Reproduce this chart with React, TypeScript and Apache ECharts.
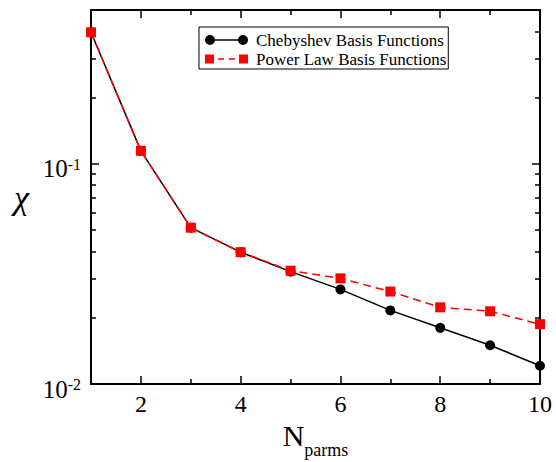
import React, { useEffect, useRef } from "react";
import * as echarts from "echarts";

const xValues = [1, 2, 3, 4, 5, 6, 7, 8, 9, 10];
const chebyshev = [0.396, 0.1146, 0.0513, 0.0397, 0.0324, 0.0269, 0.0216, 0.018, 0.015, 0.0121];
const powerLaw = [0.396, 0.1146, 0.0513, 0.0397, 0.0327, 0.0302, 0.0263, 0.0223, 0.0214, 0.0187];
const seriesNames = ["Chebyshev Basis Functions", "Power Law Basis Functions"];
const xMajorTicks = [2, 4, 6, 8, 10];
const xMinorTicks = [1, 3, 5, 7, 9];
const yMajorTicks = [0.01, 0.1];
const yMinorTicks = [0.02, 0.03, 0.04, 0.05, 0.06, 0.07, 0.08, 0.09, 0.2, 0.3, 0.4];

const FONT = "'Liberation Serif', 'Times New Roman', 'DejaVu Serif', serif";

const chebIcon =
  "path://M0 5 A5 5 0 1 0 10 5 A5 5 0 1 0 0 5 Z M10 4.3 H33 V5.7 H10 Z M33 5 A5 5 0 1 0 43 5 A5 5 0 1 0 33 5 Z";
const powerIcon =
  "path://M0 0.5 H9 V9.5 H0 Z M13 4.3 H19 V5.7 H13 Z M24 4.3 H30 V5.7 H24 Z M34 0.5 H43 V9.5 H34 Z";

export default function App() {
  const ref = useRef<HTMLDivElement>(null);
  useEffect(() => {
    document.body.style.margin = "0";
    if (!ref.current) return;
    const chart = echarts.init(ref.current, undefined, { renderer: "svg" });
    const axisLine = { show: true, lineStyle: { color: "#000", width: 2 } };
    const tickStyle = { color: "#000", width: 1.5 };
    const xBase = { type: "value", min: 1, max: 10, splitLine: { show: false } };
    const yBase = { type: "log", logBase: 10, min: 0.01, max: 0.5, splitLine: { show: false } };
    const option: any = {
      animation: false,
      textStyle: { fontFamily: FONT },
      grid: { left: 91, right: 16, top: 10, bottom: 78, containLabel: false, outerBoundsMode: "none" },
      legend: {
        orient: "vertical",
        left: 199,
        top: 27,
        borderColor: "#000",
        borderWidth: 1,
        padding: [4, 2, 1, 6],
        itemGap: 1,
        itemWidth: 43,
        itemHeight: 10,
        textStyle: { fontFamily: FONT, fontSize: 17, color: "#000", lineHeight: 18, padding: [0, 0, 0, 3] },
        data: [
          { name: seriesNames[0], icon: chebIcon },
          { name: seriesNames[1], icon: powerIcon },
        ],
      },
      xAxis: [
        {
          ...xBase,
          position: "bottom",
          axisLine,
          axisTick: { show: true, inside: true, length: 8, lineStyle: tickStyle, customValues: xMajorTicks },
          axisLabel: { show: true, customValues: xMajorTicks, fontFamily: FONT, fontSize: 24, color: "#000", margin: 8 },
          name: "{n|N}{s|parms}",
          nameLocation: "middle",
          nameGap: 34,
          nameTextStyle: {
            rich: {
              n: { fontFamily: FONT, fontSize: 30, color: "#000", lineHeight: 30, verticalAlign: "top" },
              s: { fontFamily: FONT, fontSize: 18, color: "#000", lineHeight: 18, verticalAlign: "bottom", padding: [0, 0, -8, 0] },
            },
          },
        },
        {
          ...xBase,
          position: "bottom",
          axisLine: { show: false },
          axisTick: { show: true, inside: true, length: 5, lineStyle: tickStyle, customValues: xMinorTicks },
          axisLabel: { show: false },
        },
        {
          ...xBase,
          position: "top",
          axisLine,
          axisTick: { show: true, inside: true, length: 8, lineStyle: tickStyle, customValues: xMajorTicks },
          axisLabel: { show: false },
        },
        {
          ...xBase,
          position: "top",
          axisLine: { show: false },
          axisTick: { show: true, inside: true, length: 5, lineStyle: tickStyle, customValues: xMinorTicks },
          axisLabel: { show: false },
        },
      ],
      yAxis: [
        {
          ...yBase,
          position: "left",
          axisLine,
          axisTick: { show: true, inside: true, length: 8, lineStyle: tickStyle, customValues: yMajorTicks },
          axisLabel: {
            show: true,
            customValues: yMajorTicks,
            margin: 10,
            padding: [10, 0, 0, 0],
            formatter: (v: number) => `{a|10}{b|${Math.round(Math.log10(v))}}`,
            rich: {
              a: { fontFamily: FONT, fontSize: 25, color: "#000", verticalAlign: "bottom" },
              b: { fontFamily: FONT, fontSize: 16, color: "#000", verticalAlign: "top" },
            },
          },
          name: "χ",
          nameLocation: "middle",
          nameRotate: 0,
          nameGap: 62,
          nameTextStyle: { fontFamily: FONT, fontSize: 34, color: "#000", fontStyle: "italic" },
        },
        {
          ...yBase,
          position: "left",
          axisLine: { show: false },
          axisTick: { show: true, inside: true, length: 5, lineStyle: tickStyle, customValues: yMinorTicks },
          axisLabel: { show: false },
        },
        {
          ...yBase,
          position: "right",
          axisLine,
          axisTick: { show: true, inside: true, length: 8, lineStyle: tickStyle, customValues: yMajorTicks },
          axisLabel: { show: false },
        },
        {
          ...yBase,
          position: "right",
          axisLine: { show: false },
          axisTick: { show: true, inside: true, length: 5, lineStyle: tickStyle, customValues: yMinorTicks },
          axisLabel: { show: false },
        },
      ],
      series: [
        {
          name: seriesNames[0],
          type: "line",
          xAxisIndex: 0,
          yAxisIndex: 0,
          data: xValues.map((x, i) => [x, chebyshev[i]]),
          symbol: "circle",
          symbolSize: 10,
          lineStyle: { color: "#000", width: 1.5 },
          itemStyle: { color: "#000" },
          z: 2,
        },
        {
          name: seriesNames[1],
          type: "line",
          xAxisIndex: 0,
          yAxisIndex: 0,
          data: xValues.map((x, i) => [x, powerLaw[i]]),
          symbol: "rect",
          symbolSize: 10,
          lineStyle: { color: "#ff0000", width: 1.5, type: [8, 5] },
          itemStyle: { color: "#ff0000" },
          z: 3,
        },
      ],
    };
    chart.setOption(option);
    return () => chart.dispose();
  }, []);
  return <div ref={ref} style={{ width: 556, height: 462 }} />;
}
